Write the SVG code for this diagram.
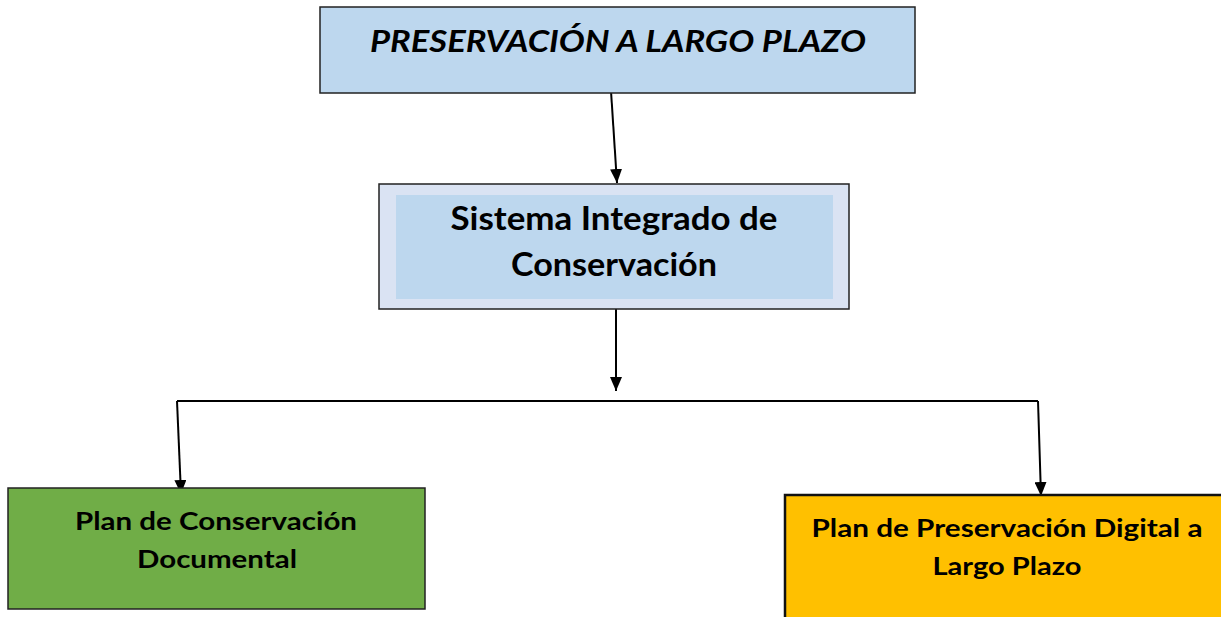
<svg xmlns="http://www.w3.org/2000/svg" width="1221" height="617" viewBox="0 0 1221 617">
<style>
.t{font-family:Lato,"Open Sans","Liberation Sans",sans-serif;font-weight:bold;fill:#000;text-anchor:middle}
.box{stroke:#222;stroke-width:1.5}
.ln{stroke:#000;stroke-width:2;fill:none}
</style>
<defs>
<marker id="ah" markerWidth="14" markerHeight="12" refX="14" refY="6" orient="auto" markerUnits="userSpaceOnUse" viewBox="0 0 14 12">
<path d="M0,0 L14,6 L0,12 Z" fill="#000"/>
</marker>
</defs>
<rect width="1221" height="617" fill="#fff"/>
<g id="connectors">
<line class="ln" x1="611" y1="91" x2="617" y2="183" marker-end="url(#ah)"/>
<line class="ln" x1="616" y1="303" x2="616" y2="391" marker-end="url(#ah)"/>
<polyline class="ln" points="177,401 1038,401" stroke-width="1.5"/>
<line class="ln" x1="177" y1="401" x2="181" y2="494" marker-end="url(#ah)"/>
<line class="ln" x1="1038" y1="401" x2="1041" y2="496" marker-end="url(#ah)"/>
</g>
<g id="node-top">
<rect class="box" x="320" y="7" width="595" height="86" fill="#BDD7EE"/>
<text class="t" x="618" y="52" font-size="31" font-style="italic" textLength="496" lengthAdjust="spacingAndGlyphs">PRESERVACIÓN A LARGO PLAZO</text>
</g>
<g id="node-sistema">
<rect class="box" x="379" y="184" width="470" height="125" fill="#DAE3F3"/>
<rect x="396" y="195" width="437" height="104" fill="#BDD7EE"/>
<text class="t" x="614" y="230" font-size="32" textLength="327" lengthAdjust="spacingAndGlyphs">Sistema Integrado de</text>
<text class="t" x="614" y="276" font-size="32" textLength="206" lengthAdjust="spacingAndGlyphs">Conservación</text>
</g>
<g id="node-plan-conservacion">
<rect class="box" x="8" y="488" width="417" height="121" fill="#70AD47"/>
<text class="t" x="216" y="530" font-size="25.5" textLength="282" lengthAdjust="spacingAndGlyphs">Plan de Conservación</text>
<text class="t" x="217" y="568" font-size="25.5" textLength="160" lengthAdjust="spacingAndGlyphs">Documental</text>
</g>
<g id="node-plan-preservacion">
<rect x="785" y="495" width="440" height="130" fill="#FFC000" stroke="#111" stroke-width="2.5"/>
<text class="t" x="1007" y="537" font-size="25.5" textLength="391" lengthAdjust="spacingAndGlyphs">Plan de Preservación Digital a</text>
<text class="t" x="1007" y="575" font-size="25.5" textLength="149" lengthAdjust="spacingAndGlyphs">Largo Plazo</text>
</g>
</svg>
